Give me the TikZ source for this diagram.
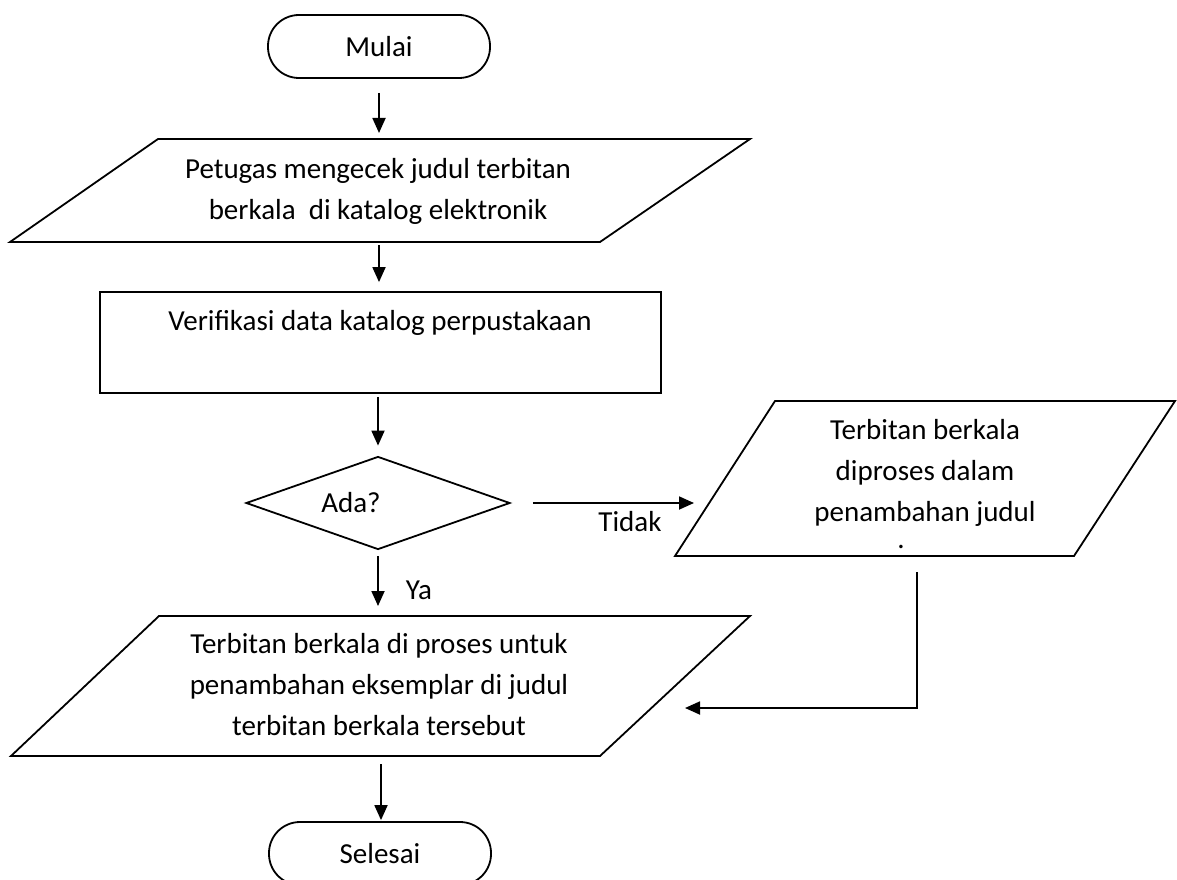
\documentclass[tikz,border=0pt]{standalone}
\usepackage{fontspec}
\setmainfont{Carlito}
\usetikzlibrary{arrows.meta,shapes.geometric}
\begin{document}
\begin{tikzpicture}[x=1pt,y=-1pt,
  outline/.style={draw=black, line width=1.8pt, line join=miter},
  txt/.style={font=\fontsize{29}{41}\selectfont, align=center, inner sep=0pt},
  terminal/.style={outline, rounded corners=31pt, minimum width=222pt, minimum height=63pt, inner sep=0pt, font=\fontsize{29}{41}\selectfont},
  procbox/.style={outline, minimum width=561pt, minimum height=101pt, inner sep=0pt},
  decision/.style={outline, diamond, minimum width=264pt, minimum height=93pt, inner sep=0pt},
  arr/.style={line width=1.8pt, -{Triangle[length=15pt,width=13pt]}},
  plain/.style={line width=1.8pt}
]
\useasboundingbox (0,0) rectangle (1177,880);
\fill[white] (0,0) rectangle (1177,880);
\clip (0,0) rectangle (1177,880);

% start
\node[terminal] (mulai) at (379,46.5) {Mulai};

% input 1
\draw[outline] (158,139) -- (750,139) -- (600,242) -- (10,242) -- cycle;
\coordinate (p1top) at (379,139);
\coordinate (p1bot) at (379,242);
\node[txt] (p1) at (378,191) {Petugas mengecek judul terbitan\\berkala\ \ di katalog elektronik};

% process
\node[procbox] (verif) at (380.5,342.5) {};
\node[txt] (verift) at (380,322.5) {Verifikasi data katalog perpustakaan};

% decision
\node[decision] (ada) at (378,503) {};
\node[txt] (adat) at (351,503) {Ada?};

% input 2 (right)
\draw[outline] (775,401) -- (1175,401) -- (1074,556) -- (675,556) -- cycle;
\coordinate (p2left) at (709,503);
\coordinate (p2bot) at (917,556);
\node[txt] (p2) at (925,473) {Terbitan berkala\\diproses dalam\\penambahan judul};
\node[txt, anchor=base] (p2dot) at (901,548) {.};

% input 3
\draw[outline] (159,616) -- (750,616) -- (600,756) -- (11,756) -- cycle;
\coordinate (p3top) at (380,616);
\coordinate (p3right) at (651,708);
\coordinate (p3bot) at (381,756);
\node[txt] (p3) at (379,685) {Terbitan berkala di proses untuk\\penambahan eksemplar di judul\\terbitan berkala tersebut};

% end
\node[terminal] (selesai) at (380,853.5) {Selesai};

% connectors
\draw[arr, shorten <=14pt, shorten >=6pt] (mulai.south) -- (mulai.south |- p1top);
\draw[arr, shorten <=3pt, shorten >=9pt] (p1bot) -- (p1bot |- verif.north);
\draw[arr, shorten <=3pt, shorten >=10pt] (verif.south -| ada.north) -- (ada.north);
\draw[arr, shorten <=22pt, shorten >=15pt] (ada.east) -- (p2left);
\node[txt] (tidak) at (630,522) {Tidak};
\draw[arr, shorten <=6pt, shorten >=10pt] (ada.south) -- (ada.south |- p3top);
\node[txt] (ya) at (419,590) {Ya};
\draw[arr, shorten <=16pt, shorten >=34pt] (p2bot) |- (p3right);
\draw[arr, shorten <=8pt, shorten >=1pt] (p3bot) -- (p3bot |- selesai.north);
\end{tikzpicture}
\end{document}
